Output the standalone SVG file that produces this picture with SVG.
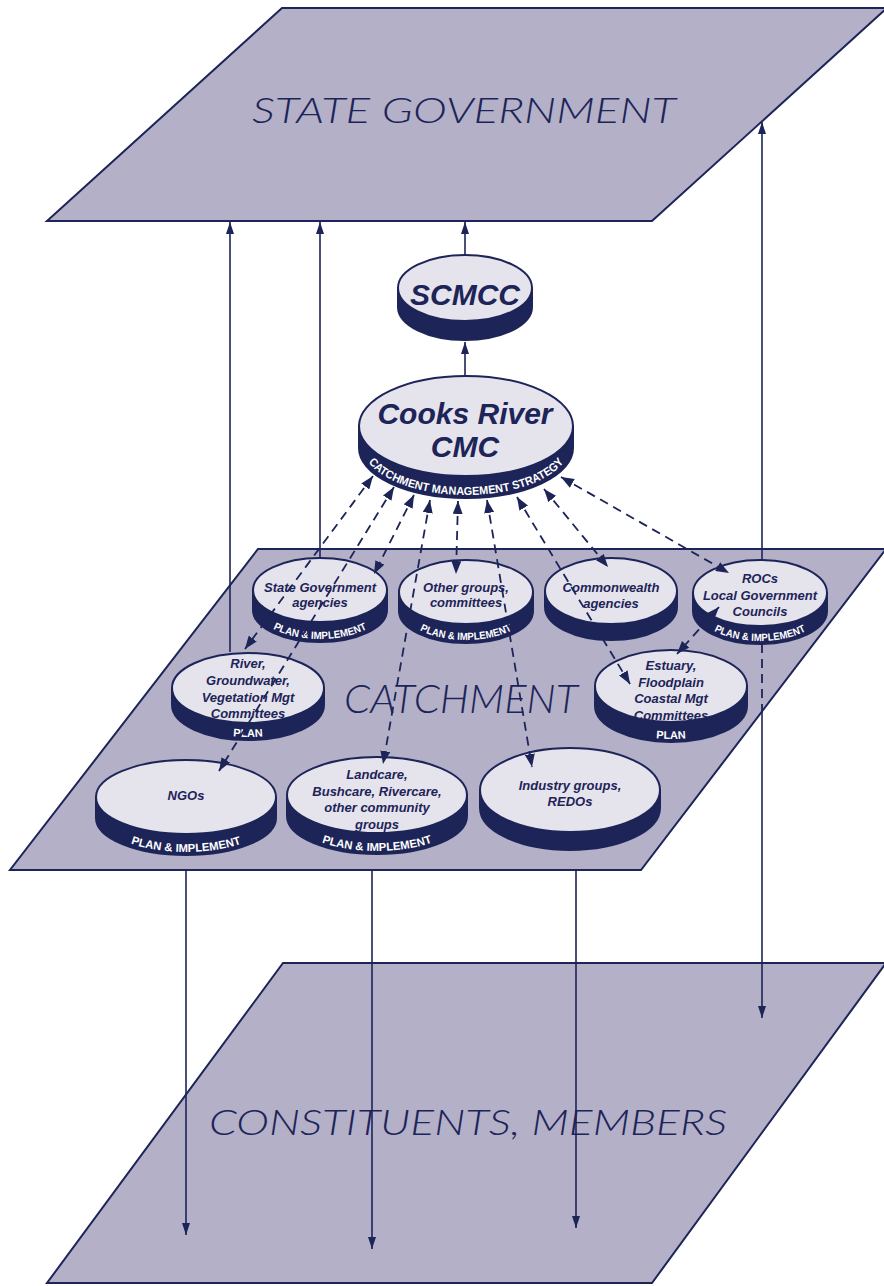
<svg xmlns="http://www.w3.org/2000/svg" width="884" height="1286" viewBox="0 0 884 1286">
<style>
.plane{fill:#b3b0c8;stroke:#1d2458;stroke-width:2}
.ptxt{font-family:Lato,'Liberation Sans',sans-serif;font-weight:300;font-style:italic;fill:#1d2458}
.face{fill:#e5e3ec;stroke:#1d2458;stroke-width:2}
.band{fill:#1d2458;stroke:#1d2458;stroke-width:2}
.ntxt{font-family:'Liberation Sans',Arial,sans-serif;font-weight:bold;font-style:italic;fill:#1d2458;text-anchor:middle}
.btxt{font-family:'Liberation Sans Narrow','Liberation Sans',Arial,sans-serif;font-weight:bold;fill:#ffffff;text-anchor:middle}
.solid{fill:none;stroke:#1d2458;stroke-width:1.6}
.dash{fill:none;stroke:#1d2458;stroke-width:1.8;stroke-dasharray:9 6}
</style>
<defs>
<marker id="ah" viewBox="0 0 12 8" refX="12" refY="4" markerWidth="12" markerHeight="8" markerUnits="userSpaceOnUse" orient="auto-start-reverse"><path d="M0,0 L12,4 L0,8 z" fill="#1d2458"/></marker>
<marker id="ahd" viewBox="0 0 13 10" refX="13" refY="5" markerWidth="13" markerHeight="10" markerUnits="userSpaceOnUse" orient="auto-start-reverse"><path d="M0,0 L13,5 L0,10 z" fill="#1d2458"/></marker>
<path id="tp-cmc" d="M362,445 A104,50 0 0 0 570,445"/>
<path id="tp-sga" d="M256,607 A64,32 0 0 0 384,607"/>
<path id="tp-og" d="M402,608 A64,32 0 0 0 530,608"/>
<path id="tp-roc" d="M696,608 A64,33 0 0 0 824,608"/>
<path id="tp-riv" d="M175,702 A73,35 0 0 0 321,702"/>
<path id="tp-est" d="M598,703 A73,36 0 0 0 744,703"/>
<path id="tp-ngo" d="M99,815 A87,37 0 0 0 273,815"/>
<path id="tp-land" d="M290,813 A87,38 0 0 0 464,813"/>
</defs>

<g id="state-government">
<polygon class="plane" points="282,8 887,8 652,221 47,221"/>
<text class="ptxt" x="464" y="123" font-size="36" text-anchor="middle" textLength="424" lengthAdjust="spacingAndGlyphs">STATE GOVERNMENT</text>
</g>
<g id="catchment">
<polygon class="plane" points="258,549 886,549 641,870 10,870"/>
<text class="ptxt" x="461" y="713" font-size="39" text-anchor="middle" textLength="234" lengthAdjust="spacingAndGlyphs">CATCHMENT</text>
</g>
<g id="constituents">
<polygon class="plane" points="283,963 886,963 652,1283 47,1283"/>
<text class="ptxt" x="468" y="1135" font-size="36" text-anchor="middle" textLength="518" lengthAdjust="spacingAndGlyphs">CONSTITUENTS, MEMBERS</text>
</g>

<g id="scmcc">
<path class="band" d="M398,288 v19 a67,33 0 0 0 134,0 v-19 z"/>
<ellipse class="face" cx="465" cy="288" rx="67" ry="33"/>
<text class="ntxt" x="465" y="305" font-size="30">SCMCC</text>
</g>

<g id="cmc">
<path class="band" d="M359,426 v22 a107,50 0 0 0 214,0 v-22 z"/>
<ellipse class="face" cx="466" cy="426" rx="107" ry="50"/>
<text class="ntxt" x="465" y="424" font-size="30">Cooks River</text>
<text class="ntxt" x="465" y="457" font-size="30">CMC</text>
<text class="btxt" font-size="11.5"><textPath href="#tp-cmc" startOffset="50%" textLength="212" lengthAdjust="spacingAndGlyphs">CATCHMENT MANAGEMENT STRATEGY</textPath></text>
</g>

<g id="state-gov-agencies">
<path class="band" d="M253,590 v20 a67,32 0 0 0 134,0 v-20 z"/>
<ellipse class="face" cx="320" cy="590" rx="67" ry="32"/>
<text class="ntxt" x="320" y="592" font-size="13">State Government</text>
<text class="ntxt" x="320" y="607" font-size="13">agencies</text>
<text class="btxt" font-size="10.5"><textPath href="#tp-sga" startOffset="50%" textLength="97" lengthAdjust="spacingAndGlyphs">PLAN &amp; IMPLEMENT</textPath></text>
</g>

<g id="other-groups">
<path class="band" d="M399,592 v19 a67,32 0 0 0 134,0 v-19 z"/>
<ellipse class="face" cx="466" cy="592" rx="67" ry="32"/>
<text class="ntxt" x="466" y="592" font-size="13">Other groups,</text>
<text class="ntxt" x="466" y="607" font-size="13">committees</text>
<text class="btxt" font-size="10.5"><textPath href="#tp-og" startOffset="50%" textLength="95" lengthAdjust="spacingAndGlyphs">PLAN &amp; IMPLEMENT</textPath></text>
</g>

<g id="commonwealth">
<path class="band" d="M545,591 v16 a66,33 0 0 0 132,0 v-16 z"/>
<ellipse class="face" cx="611" cy="591" rx="66" ry="33"/>
<text class="ntxt" x="611" y="592" font-size="13">Commonwealth</text>
<text class="ntxt" x="611" y="608" font-size="13">agencies</text>
</g>

<g id="rocs">
<path class="band" d="M693,593 v18 a67,33 0 0 0 134,0 v-18 z"/>
<ellipse class="face" cx="760" cy="593" rx="67" ry="33"/>
<text class="ntxt" x="760" y="583" font-size="13">ROCs</text>
<text class="ntxt" x="760" y="600" font-size="13">Local Government</text>
<text class="ntxt" x="760" y="616" font-size="13">Councils</text>
<text class="btxt" font-size="10.5"><textPath href="#tp-roc" startOffset="50%" textLength="95" lengthAdjust="spacingAndGlyphs">PLAN &amp; IMPLEMENT</textPath></text>
</g>

<g id="river">
<path class="band" d="M172,688 v17 a76,35 0 0 0 152,0 v-17 z"/>
<ellipse class="face" cx="248" cy="688" rx="76" ry="35"/>
<text class="ntxt" x="248" y="668" font-size="13">River,</text>
<text class="ntxt" x="248" y="685" font-size="13">Groundwater,</text>
<text class="ntxt" x="248" y="702" font-size="13">Vegetation Mgt</text>
<text class="ntxt" x="248" y="718" font-size="13">Committees</text>
<text class="btxt" font-size="11"><textPath href="#tp-riv" startOffset="50%">PLAN</textPath></text>
</g>

<g id="estuary">
<path class="band" d="M595,686 v20 a76,36 0 0 0 152,0 v-20 z"/>
<ellipse class="face" cx="671" cy="686" rx="76" ry="36"/>
<text class="ntxt" x="671" y="670" font-size="13">Estuary,</text>
<text class="ntxt" x="671" y="687" font-size="13">Floodplain</text>
<text class="ntxt" x="671" y="703" font-size="13">Coastal Mgt</text>
<text class="ntxt" x="671" y="720" font-size="13">Committees</text>
<text class="btxt" font-size="11"><textPath href="#tp-est" startOffset="50%">PLAN</textPath></text>
</g>

<g id="ngos">
<path class="band" d="M96,797 v21 a90,37 0 0 0 180,0 v-21 z"/>
<ellipse class="face" cx="186" cy="797" rx="90" ry="37"/>
<text class="ntxt" x="186" y="800" font-size="13">NGOs</text>
<text class="btxt" font-size="11.5"><textPath href="#tp-ngo" startOffset="50%" textLength="112" lengthAdjust="spacingAndGlyphs">PLAN &amp; IMPLEMENT</textPath></text>
</g>

<g id="landcare">
<path class="band" d="M287,795 v21 a90,38 0 0 0 180,0 v-21 z"/>
<ellipse class="face" cx="377" cy="795" rx="90" ry="38"/>
<text class="ntxt" x="377" y="779" font-size="13">Landcare,</text>
<text class="ntxt" x="377" y="796" font-size="13">Bushcare, Rivercare,</text>
<text class="ntxt" x="377" y="812" font-size="13">other community</text>
<text class="ntxt" x="377" y="829" font-size="13">groups</text>
<text class="btxt" font-size="11.5"><textPath href="#tp-land" startOffset="50%" textLength="112" lengthAdjust="spacingAndGlyphs">PLAN &amp; IMPLEMENT</textPath></text>
</g>

<g id="industry">
<path class="band" d="M480,790 v18 a90,42 0 0 0 180,0 v-18 z"/>
<ellipse class="face" cx="570" cy="790" rx="90" ry="42"/>
<text class="ntxt" x="570" y="790" font-size="13">Industry groups,</text>
<text class="ntxt" x="570" y="806" font-size="13">REDOs</text>
</g>

<g id="connectors">
<line class="solid" x1="230" y1="652" x2="230" y2="222" marker-end="url(#ah)"/>
<line class="solid" x1="320" y1="557" x2="320" y2="222" marker-end="url(#ah)"/>
<line class="solid" x1="465" y1="254" x2="465" y2="222" marker-end="url(#ah)"/>
<line class="solid" x1="465" y1="375" x2="465" y2="342" marker-end="url(#ah)"/>
<line class="solid" x1="762" y1="560" x2="762" y2="122" marker-end="url(#ah)"/>
<line class="solid" x1="186" y1="870" x2="186" y2="1235" marker-end="url(#ah)"/>
<line class="solid" x1="372" y1="870" x2="372" y2="1249" marker-end="url(#ah)"/>
<line class="solid" x1="576" y1="870" x2="576" y2="1228" marker-end="url(#ah)"/>
<line class="dash" x1="762" y1="644" x2="762" y2="713"/>
<line class="solid" x1="762" y1="713" x2="762" y2="1018" marker-end="url(#ah)"/>
<line class="dash" x1="373" y1="476" x2="245" y2="649" marker-start="url(#ahd)" marker-end="url(#ahd)"/>
<line class="dash" x1="394" y1="487" x2="219" y2="771" marker-start="url(#ahd)" marker-end="url(#ahd)"/>
<line class="dash" x1="414" y1="495" x2="374" y2="574" marker-start="url(#ahd)" marker-end="url(#ahd)"/>
<line class="dash" x1="430" y1="500" x2="383" y2="764" marker-start="url(#ahd)" marker-end="url(#ahd)"/>
<line class="dash" x1="458" y1="501" x2="456" y2="574" marker-start="url(#ahd)" marker-end="url(#ahd)"/>
<line class="dash" x1="487" y1="500" x2="532" y2="767" marker-start="url(#ahd)" marker-end="url(#ahd)"/>
<line class="dash" x1="517" y1="497" x2="630" y2="684" marker-start="url(#ahd)" marker-end="url(#ahd)"/>
<line class="dash" x1="544" y1="489" x2="608" y2="567" marker-start="url(#ahd)" marker-end="url(#ahd)"/>
<line class="dash" x1="561" y1="477" x2="729" y2="573" marker-start="url(#ahd)" marker-end="url(#ahd)"/>
<line class="dash" x1="719" y1="607" x2="677" y2="654" marker-start="url(#ahd)" marker-end="url(#ahd)"/>
</g>
</svg>
